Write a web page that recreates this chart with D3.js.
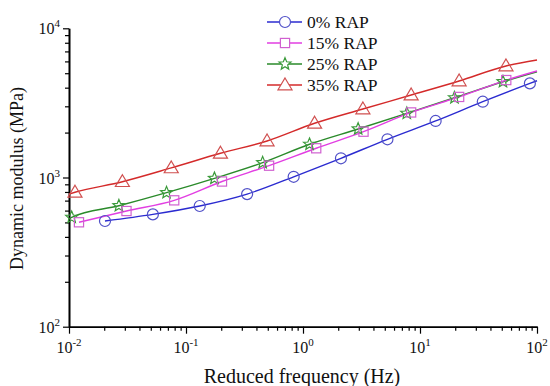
<!DOCTYPE html>
<html><head><meta charset="utf-8">
<script src="https://cdn.jsdelivr.net/npm/d3@7"></script>
<style>body{margin:0;background:#fff}svg{display:block}text{font-family:"Liberation Serif","Times New Roman",serif;fill:#111}</style>
</head><body><svg id="c" width="550" height="386"></svg>
<script>
const seriesNames = ["0% RAP","15% RAP","25% RAP","35% RAP"];
// Marker data (reduced frequency Hz, dynamic modulus MPa)
const rap0X  = [0.0203,0.0521,0.131,0.333,0.832,2.11,5.27,13.6,34.4,86.9];
const rap0Y  = [511,566,644,774,1011,1345,1803,2393,3221,4273];
const rap15X = [0.01217,0.0310,0.0793,0.203,0.513,1.297,3.29,8.40,21.6,54.6];
const rap15Y = [501,596,703,940,1200,1570,2028,2729,3467,4498];
const rap25X = [0.01054,0.0267,0.0682,0.175,0.452,1.137,2.96,7.71,19.7,51.2];
const rap25Y = [541,647,791,987,1257,1670,2115,2693,3424,4385];
const rap35X = [0.01125,0.0286,0.0748,0.197,0.493,1.256,3.25,8.40,21.6,54.3];
const rap35Y = [796,937,1159,1453,1757,2309,2878,3570,4434,5590];
// fitted-curve end points (start x, start y, end x, end y)
const curveStart = [[0.0203,511],[0.01217,501],[0.01,527],[0.01,774]];
const curveEnd   = [[100,4453],[100,5180],[100,5117],[100,6137]];
const xTicks = [0.01,0.1,1,10,100];
const xExp = ["-2","-1","0","1","2"];
const yTicks = [100,1000,10000];
const yExp = ["2","3","4"];

const lineColors = ["#2b2bd0","#e23ee2","#2a8a2a","#d42a2a"];
const markColors = ["#5050c8","#d060d0","#3a9a3a","#d05050"];
const shapes = ["circle","square","star","triangle"];
const xs=[rap0X,rap15X,rap25X,rap35X], ys=[rap0Y,rap15Y,rap25Y,rap35Y];

const svg=d3.select("#c");
const x=d3.scaleLog().domain([0.01,100]).range([69,537]);
const y=d3.scaleLog().domain([100,10000]).range([326.7,28.3]);

function minors(dom){const out=[];for(let d=Math.log10(dom[0]);d<Math.log10(dom[1]);d++){for(let k=2;k<=9;k++)out.push(k*Math.pow(10,d));}return out;}

// axes
const gx=svg.append("g").attr("transform","translate(0,326.7)");
gx.call(d3.axisBottom(x).tickValues(minors(x.domain())).tickSize(4).tickFormat("").tickSizeOuter(0));
gx.call(g=>g.append("g").call(d3.axisBottom(x).tickValues(xTicks).tickSize(7).tickFormat("").tickSizeOuter(0)));
const gy=svg.append("g").attr("transform","translate(69,0)");
gy.call(d3.axisLeft(y).tickValues(minors(y.domain())).tickSize(4).tickFormat("").tickSizeOuter(0));
gy.call(g=>g.append("g").call(d3.axisLeft(y).tickValues(yTicks).tickSize(6).tickFormat("").tickSizeOuter(0)));
svg.selectAll(".domain").attr("stroke","#000").attr("stroke-width",1.6);
svg.selectAll(".tick line").attr("stroke","#000").attr("stroke-width",1.2);

// tick labels
xTicks.forEach((v,i)=>{
  const t=svg.append("text").attr("x",x(v)).attr("y",353).attr("text-anchor","middle").style("font-size","16px");
  t.append("tspan").text("10");
  t.append("tspan").attr("dy",-7).style("font-size","11px").text(xExp[i]);
});
yTicks.forEach((v,i)=>{
  const t=svg.append("text").attr("x",60).attr("y",y(v)+6).attr("text-anchor","end").style("font-size","16px");
  t.append("tspan").text("10");
  t.append("tspan").attr("dy",-7).style("font-size","11px").text(yExp[i]);
});
svg.append("text").attr("x",302).attr("y",383).attr("text-anchor","middle").style("font-size","20px").text("Reduced frequency (Hz)");
svg.append("text").attr("transform","translate(23,178.5) rotate(-90)").attr("text-anchor","middle").style("font-size","18px").text("Dynamic modulus (MPa)");

function marker(g,shape,col){
  if(shape==="circle") g.append("circle").attr("r",5.5);
  else if(shape==="square") g.append("rect").attr("x",-4.6).attr("y",-4.6).attr("width",9.2).attr("height",9.2);
  else if(shape==="triangle") g.append("path").attr("d","M0,-7L7,4.8L-7,4.8Z");
  else { const pts=[];for(let k=0;k<10;k++){const r=k%2?2.8:6.3;const a=-Math.PI/2+k*Math.PI/5;pts.push([r*Math.cos(a),r*Math.sin(a)]);} g.append("path").attr("d","M"+pts.map(p=>p.join(",")).join("L")+"Z"); }
  g.selectAll("*").attr("fill","none").attr("stroke",col).attr("stroke-width",1.2);
}

const line=d3.line().x(d=>x(d[0])).y(d=>y(d[1])).curve(d3.curveMonotoneX);
[3,2,1,0].forEach(s=>{
  let pts=xs[s].map((v,i)=>[v,ys[s][i]]);
  let cp=[curveStart[s],...pts.filter(p=>p[0]>curveStart[s][0]),curveEnd[s]];
  svg.append("path").attr("d",line(cp)).attr("fill","none").attr("stroke",lineColors[s]).attr("stroke-width",1.4);
});
[3,2,1,0].forEach(s=>{
  xs[s].forEach((v,i)=>{
    const g=svg.append("g").attr("transform",`translate(${x(v)},${y(ys[s][i])})`);
    marker(g,shapes[s],markColors[s]);
  });
});

// legend
const ly=[22,43,64,85];
seriesNames.forEach((n,i)=>{
  svg.append("line").attr("x1",267).attr("x2",302).attr("y1",ly[i]).attr("y2",ly[i]).attr("stroke",lineColors[i]).attr("stroke-width",1.4);
  const g=svg.append("g").attr("transform",`translate(285,${ly[i]})`);
  marker(g,shapes[i],markColors[i]);
  g.select("*").attr("fill","#fff");
  svg.append("text").attr("x",307).attr("y",ly[i]+6).style("font-size","17.5px").text(n);
});
</script></body></html>
